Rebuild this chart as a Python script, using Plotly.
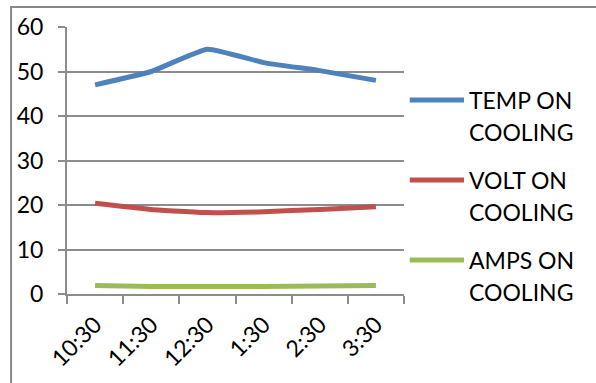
import plotly.graph_objects as go

# Hourly readings during the cooling run
times = ["10:30", "11:30", "12:30", "1:30", "2:30", "3:30"]
temp_on_cooling = [47, 50, 55, 52, 50.2, 48]
volt_on_cooling = [20.4, 19.0, 18.3, 18.5, 19.0, 19.6]
amps_on_cooling = [1.9, 1.7, 1.7, 1.7, 1.8, 1.9]

series_names = ["TEMP ON", "VOLT ON", "AMPS ON"]
series_colors = ["#4F81BD", "#C0504D", "#9BBB59"]
series_values = [temp_on_cooling, volt_on_cooling, amps_on_cooling]

FONT = "Lato, Open Sans, sans-serif"
GRID = "#8c8c8c"
FS = 23

fig = go.Figure()
for name, color, vals in zip(series_names, series_colors, series_values):
    fig.add_trace(go.Scatter(
        x=times, y=vals, mode="lines", name=name + " COOLING",
        line=dict(color=color, width=5, shape="spline", smoothing=0.4),
        showlegend=False, hoverinfo="x+y+name",
    ))

# Hand-built legend: sample line plus two-line label per series
legend_y = [0.727, 0.427, 0.127]
line_gap = 0.12
shapes = []
annotations = []
for name, color, ly in zip(series_names, series_colors, legend_y):
    shapes.append(dict(type="line", xref="paper", yref="paper",
                       x0=1.017, x1=1.178, y0=ly, y1=ly,
                       line=dict(color=color, width=5), layer="above"))
    annotations.append(dict(xref="paper", yref="paper", x=1.187, y=ly,
                            xanchor="left", yanchor="middle", showarrow=False,
                            text=name, font=dict(family=FONT, size=FS, color="#000")))
    annotations.append(dict(xref="paper", yref="paper", x=1.187, y=ly - line_gap,
                            xanchor="left", yanchor="middle", showarrow=False,
                            text="COOLING", font=dict(family=FONT, size=FS, color="#000")))

# Outer chart frame (runs past the right and bottom edges of the page)
shapes.append(dict(type="rect", xref="paper", yref="paper",
                   x0=-0.166, x1=1.8, y0=-0.6, y1=1.075,
                   line=dict(color="#878787", width=2), layer="below"))

fig.update_layout(
    width=596, height=383,
    margin=dict(l=67, r=192, t=27, b=89),
    paper_bgcolor="white", plot_bgcolor="white",
    font=dict(family=FONT, size=FS, color="#000"),
    shapes=shapes, annotations=annotations,
    showlegend=False,
)
fig.update_xaxes(
    type="category", tickson="boundaries", tickangle=-45,
    ticks="outside", ticklen=8, tickcolor=GRID, tickwidth=2,
    showline=True, linecolor=GRID, linewidth=2,
    showgrid=False, tickfont=dict(family=FONT, size=FS),
    range=[-0.5, 5.5], ticklabelstandoff=6,
)
fig.update_yaxes(
    range=[0, 60], dtick=10, tick0=0,
    ticks="outside", ticklen=7, tickcolor=GRID, tickwidth=2,
    showline=True, linecolor=GRID, linewidth=2,
    showgrid=True, gridcolor=GRID, gridwidth=2,
    zeroline=False, tickfont=dict(family=FONT, size=FS),
    ticklabelstandoff=10,
)

fig.write_html("out.html")
